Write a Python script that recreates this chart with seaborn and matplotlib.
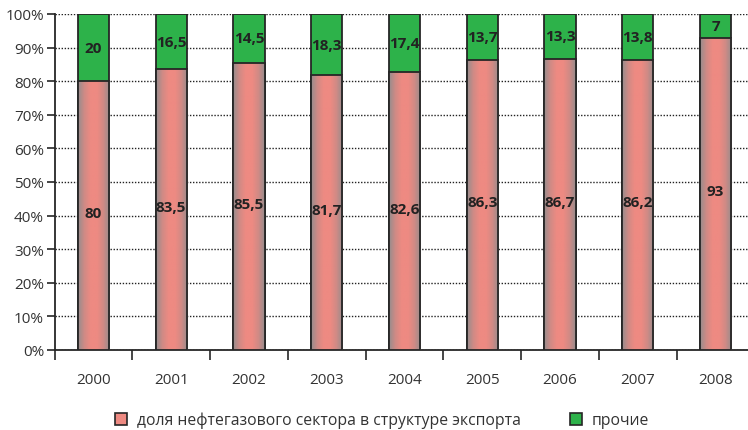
import numpy as np
import pandas as pd
import matplotlib
matplotlib.use("Agg")
import matplotlib.pyplot as plt
import seaborn as sns
from matplotlib.patches import Patch
from matplotlib.colors import LinearSegmentedColormap

years = ["2000", "2001", "2002", "2003", "2004", "2005", "2006", "2007", "2008"]
oil_gas = [80, 83.5, 85.5, 81.7, 82.6, 86.3, 86.7, 86.2, 93]
other = [20, 16.5, 14.5, 18.3, 17.4, 13.7, 13.3, 13.8, 7]
oil_labels = ["80", "83,5", "85,5", "81,7", "82,6", "86,3", "86,7", "86,2", "93"]
other_labels = ["20", "16,5", "14,5", "18,3", "17,4", "13,7", "13,3", "13,8", "7"]
yticks = [0, 10, 20, 30, 40, 50, 60, 70, 80, 90, 100]
ytick_labels = ["0%", "10%", "20%", "30%", "40%", "50%", "60%", "70%", "80%", "90%", "100%"]
legend_labels = ["доля нефтегазового сектора в структуре экспорта", "прочие"]

sns.set_style("white")
plt.rcParams["font.family"] = ["Open Sans", "DejaVu Sans"]

PINK = "#EE8A82"
GREEN = "#2DB24A"
EDGE = "#262626"
TXT = "#333333"

df = pd.DataFrame({"year": years, "oil": oil_gas, "other": other})
df["total"] = df["oil"] + df["other"]

W, H = 748, 431
fig = plt.figure(figsize=(W / 100, H / 100), dpi=100)
ax = fig.add_axes([54.5 / W, 80 / H, 700 / W, 336 / H])

sns.barplot(data=df, x="year", y="total", color=GREEN, saturation=1, width=0.4,
            edgecolor=EDGE, linewidth=1.3, ax=ax, zorder=2)
n_green = len(ax.patches)
sns.barplot(data=df, x="year", y="oil", color=PINK, saturation=1, width=0.4,
            edgecolor=EDGE, linewidth=1.3, ax=ax, zorder=4)
pink_patches = ax.patches[n_green:]

# horizontal gradient inside pink bars (gray edges, salmon centre)
cmap = LinearSegmentedColormap.from_list(
    "g", ["#958d8d", "#d08a85", PINK, PINK, "#d08a85", "#958d8d"])
grad = np.linspace(0, 1, 200).reshape(1, -1)
for p in pink_patches:
    x0, y0 = p.get_x(), p.get_y()
    w, h = p.get_width(), p.get_height()
    im = ax.imshow(grad, cmap=cmap, aspect="auto", extent=[x0, x0 + w, y0, y0 + h],
                   zorder=3, interpolation="bilinear")
    im.set_clip_path(p)
    p.set_facecolor("none")

ax.set_xlim(-0.5, 8.5)
ax.set_ylim(0, 100)

# labels
for i, p in enumerate(pink_patches):
    cx = p.get_x() + p.get_width() / 2
    ax.text(cx, oil_gas[i] / 2 + 0.8, oil_labels[i], ha="center", va="center",
            fontsize=11, fontweight="bold", color="#222222", zorder=6)
    ax.text(cx, oil_gas[i] + other[i] / 2, other_labels[i], ha="center", va="center",
            fontsize=11, fontweight="bold", color="#222222", zorder=6)

ax.set_yticks(yticks)
ax.set_yticklabels(ytick_labels)
ax.yaxis.grid(True, linestyle=(0, (1, 1.2)), color="#222222", linewidth=1.0, zorder=0)
ax.set_axisbelow(True)
ax.xaxis.grid(False)

ax.set_xticks(np.arange(-0.5, 9, 1), minor=True)
ax.tick_params(axis="x", which="minor", length=7, width=1.2, color=EDGE, direction="out",
               bottom=True)
ax.tick_params(axis="x", which="major", length=0, pad=16, labelsize=11, labelcolor=TXT)
ax.tick_params(axis="y", which="major", length=6, width=1.2, color=EDGE, direction="out",
               pad=1.5, labelsize=11, labelcolor=TXT, left=True)

for s in ["top", "right"]:
    ax.spines[s].set_visible(False)
for s in ["left", "bottom"]:
    ax.spines[s].set_color(EDGE)
    ax.spines[s].set_linewidth(1.3)
ax.set_xlabel("")
ax.set_ylabel("")

handles = [Patch(facecolor=PINK, edgecolor=EDGE, linewidth=1.2),
           Patch(facecolor=GREEN, edgecolor=EDGE, linewidth=1.2)]
fig.legend(handles, legend_labels, loc="center", bbox_to_anchor=(382 / W, 1 - 421 / H),
           ncol=2, frameon=False, fontsize=11.3, handlelength=0.75, handleheight=0.75,
           handletextpad=0.6, columnspacing=3.15, labelcolor=TXT)

fig.savefig("out.png", dpi=100)
